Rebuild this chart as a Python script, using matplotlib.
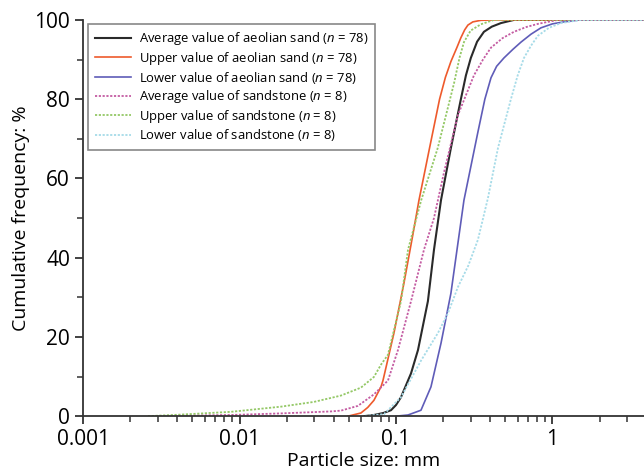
import matplotlib
matplotlib.use("Agg")
import matplotlib.pyplot as plt
from matplotlib.ticker import LogLocator, NullFormatter, FixedLocator

plt.rcParams['font.family'] = ['Open Sans', 'DejaVu Sans']
plt.rcParams['mathtext.fontset'] = 'custom'
plt.rcParams['mathtext.it'] = 'Open Sans:italic'
plt.rcParams['mathtext.rm'] = 'Open Sans'

# particle size (mm) and cumulative frequency (%)
sand_avg_x = [0.0625, 0.0723, 0.083, 0.0929, 0.1, 0.1077, 0.1248, 0.1383, 0.160, 0.175,
              0.194, 0.2245, 0.26, 0.28, 0.301, 0.33, 0.365, 0.41, 0.469, 0.568, 3.9]
sand_avg_y = [0, 0.3, 0.8, 1.5, 2.8, 4.8, 10.8, 16.7, 29, 42, 54.5, 67.7, 80, 86, 90.4,
              94.5, 97, 98.3, 99.2, 100, 100]

sand_up_x = [0.0493, 0.0597, 0.066, 0.0723, 0.0802, 0.0826, 0.0971, 0.1125, 0.1285, 0.1403,
             0.164, 0.19, 0.207, 0.2245, 0.245, 0.26, 0.275, 0.2884, 0.31, 0.349, 0.42, 3.9]
sand_up_y = [0, 0.8, 2.2, 4, 7.4, 9, 21, 33.6, 46, 54.5, 67.7, 80, 85.5, 89.5, 93, 95.5,
             97.5, 98.7, 99.5, 99.9, 100, 100]

sand_low_x = [0.1, 0.1194, 0.1445, 0.1674, 0.194, 0.2245, 0.249, 0.272, 0.334, 0.37, 0.405,
              0.44, 0.49, 0.56, 0.63, 0.73, 0.845, 1.0, 1.184, 1.5, 3.9]
sand_low_y = [0, 0.3, 1.5, 7.4, 18.4, 31, 43.7, 54.5, 71.7, 80, 85.4, 88.3, 90.4, 92.6, 94.4,
              96.4, 98, 99, 99.5, 100, 100]

stone_avg_x = [0.0026, 0.00883, 0.0184, 0.0385, 0.0445, 0.0571, 0.0723, 0.0889, 0.103,
               0.1248, 0.151, 0.175, 0.203, 0.249, 0.315, 0.36, 0.405, 0.48, 0.568, 0.68,
               0.808, 1.084, 3.9]
stone_avg_y = [0, 0.3, 0.7, 1.2, 1.4, 2.6, 5.5, 9, 16.7, 29, 42, 50, 61.6, 76, 86, 90, 93,
               95.4, 97, 98.2, 99, 100, 100]

stone_up_x = [0.0026, 0.00423, 0.00883, 0.0184, 0.0299, 0.0445, 0.0597, 0.0723, 0.0802,
              0.0889, 0.1077, 0.1194, 0.145, 0.185, 0.235, 0.255, 0.272, 0.3, 0.349, 0.423, 3.9]
stone_up_y = [0, 0.4, 1.1, 2.4, 3.6, 5.2, 7.2, 9.9, 13, 15.5, 29, 42, 54.5, 67.7, 84, 90.5,
              94.4, 97.3, 98.9, 100, 100]

stone_low_x = [0.06, 0.0838, 0.1077, 0.1445, 0.1855, 0.215, 0.249, 0.29, 0.334, 0.387,
               0.449, 0.543, 0.6, 0.658, 0.73, 0.808, 0.95, 1.133, 1.52, 3.9]
stone_low_y = [0, 0.5, 4.8, 14, 21, 26, 32.6, 38, 44.5, 55, 67.7, 80, 86, 90.4, 93.5, 96,
               98, 99.2, 100, 100]

labels = [
    "Average value of aeolian sand ($n$ = 78)",
    "Upper value of aeolian sand ($n$ = 78)",
    "Lower value of aeolian sand ($n$ = 78)",
    "Average value of sandstone ($n$ = 8)",
    "Upper value of sandstone ($n$ = 8)",
    "Lower value of sandstone ($n$ = 8)",
]

fig = plt.figure(figsize=(6.44, 4.74), dpi=100)
ax = fig.add_axes([0.129, 0.122, 0.871, 0.836])

dot = (0, (1.2, 0.9))
ax.plot(sand_avg_x, sand_avg_y, color="#2a2a2a", lw=1.5, label=labels[0])
ax.plot(sand_up_x, sand_up_y, color="#ee5a2c", lw=1.2, label=labels[1])
ax.plot(sand_low_x, sand_low_y, color="#5f5cb8", lw=1.2, label=labels[2])
ax.plot(stone_avg_x, stone_avg_y, color="#c45ca2", lw=1.3, ls=dot, label=labels[3])
ax.plot(stone_up_x, stone_up_y, color="#94c866", lw=1.3, ls=dot, label=labels[4])
ax.plot(stone_low_x, stone_low_y, color="#a6dbe8", lw=1.3, ls=dot, label=labels[5])

ax.set_xscale("log")
ax.set_xlim(0.001, 3.85)
ax.set_ylim(0, 100)
ax.set_xticks([0.001, 0.01, 0.1, 1])
ax.set_xticklabels(["0.001", "0.01", "0.1", "1"])
ax.xaxis.set_minor_locator(LogLocator(base=10, subs=range(2, 10), numticks=20))
ax.xaxis.set_minor_formatter(NullFormatter())
ax.set_yticks([0, 20, 40, 60, 80, 100])
ax.yaxis.set_minor_locator(FixedLocator([10, 30, 50, 70, 90]))

ax.spines["top"].set_visible(False)
ax.spines["right"].set_visible(False)
for s in ("left", "bottom"):
    ax.spines[s].set_linewidth(1.3)
    ax.spines[s].set_color("#333333")
ax.tick_params(which="major", length=6, width=1.3, labelsize=15, color="#333333")
ax.tick_params(which="minor", length=4, width=1.1, color="#333333")

ax.set_xlabel("Particle size: mm", fontsize=14, labelpad=1)
ax.set_ylabel("Cumulative frequency: %", fontsize=14, labelpad=3)

leg = ax.legend(loc="upper left", bbox_to_anchor=(0.009, 0.99), borderaxespad=0,
                fontsize=9.4, handlelength=2.8, handletextpad=0.6, labelspacing=0.2,
                fancybox=False, edgecolor="#888888", framealpha=1, borderpad=0.5)
leg.get_frame().set_linewidth(1.2)

fig.savefig("out.png", dpi=100)
